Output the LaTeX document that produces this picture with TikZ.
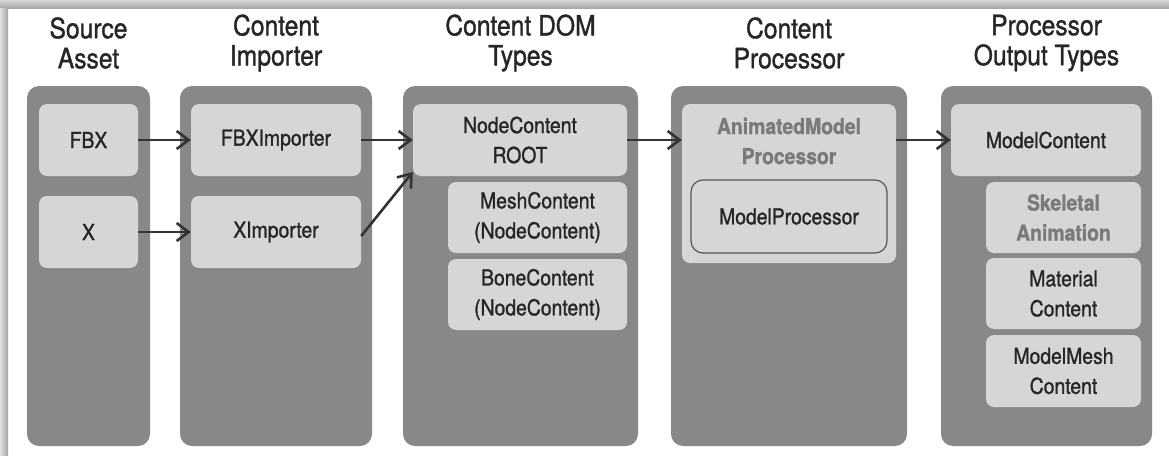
\documentclass[tikz,border=0pt]{standalone}
\usepackage{fontspec}
\setmainfont[FakeStretch=0.88,FakeBold=1.2]{TeX Gyre Heros}
\usetikzlibrary{arrows.meta}
\definecolor{colgray}{HTML}{888888}
\definecolor{itemgray}{HTML}{D6D6D6}
\definecolor{textdark}{HTML}{262626}
\definecolor{textsoft}{HTML}{7A7A7A}
\definecolor{edgegray}{HTML}{555555}
\definecolor{arrowdark}{HTML}{333333}
\begin{document}
\begin{tikzpicture}[x=1pt,y=-1pt,
  column/.style={fill=colgray,rounded corners=12pt,inner sep=0pt},
  item/.style={fill=itemgray,rounded corners=8pt,inner sep=0pt,align=center,
    text=textdark,font=\fontsize{22}{30}\selectfont},
  softtext/.style={text=textsoft,font=\bfseries\fontsize{22}{30}\selectfont},
  header/.style={align=center,text=textdark,inner sep=0pt,
    font=\fontsize{28}{30}\selectfont},
  flow/.style={draw=arrowdark,line width=2.6pt,
    -{Straight Barb[length=12pt,width=18pt,line width=2.6pt]}}]
\useasboundingbox (0,0) rectangle (1169,455);
\fill[white] (0,0) rectangle (1169,455);
% soft frame edge along the top and the left
\shade[top color=black!16,bottom color=black!34] (0,0) rectangle (1169,8);
\shade[left color=black!12,right color=black!36] (0,8) rectangle (8,455);

% column headers
\node[header] (h1) at (88.5,43) {Source\\Asset};
\node[header] (h2) at (276,43) {Content\\Importer};
\node[header] (h3) at (520.5,43) {Content DOM\\Types};
\node[header] (h4) at (789,43) {Content\\Processor};
\node[header] (h5) at (1046.5,43) {Processor\\Output Types};

% columns
\node[column,minimum width=123pt,minimum height=360pt] (c1) at (88.5,266) {};
\node[column,minimum width=192pt,minimum height=360pt] (c2) at (276,266) {};
\node[column,minimum width=235pt,minimum height=360pt] (c3) at (520.5,266) {};
\node[column,minimum width=236pt,minimum height=360pt] (c4) at (789,266) {};
\node[column,minimum width=211pt,minimum height=360pt] (c5) at (1046.5,266) {};

% source assets
\node[item,minimum width=99pt,minimum height=72pt] (fbx) at (88.5,140) {FBX};
\node[item,minimum width=99pt,minimum height=72pt] (xa) at (88.5,232) {X};

% importers
\node[item,minimum width=170pt,minimum height=72pt] (fbximp) at (276,140) {FBXImporter};
\node[item,minimum width=170pt,minimum height=72pt] (ximp) at (276,232) {XImporter};

% content DOM types
\node[item,minimum width=214pt,minimum height=72pt] (root) at (520,140) {NodeContent\\ROOT};
\node[item,minimum width=179pt,minimum height=71pt] (mesh) at (537.5,217.5) {MeshContent\\(NodeContent)};
\node[item,minimum width=179pt,minimum height=71pt] (bone) at (537.5,294.5) {BoneContent\\(NodeContent)};

% processor
\node[item,minimum width=214pt,minimum height=159pt] (anim) at (789,183.5) {};
\node[item,softtext,fill=none] (animlbl) at (789,141) {AnimatedModel\\Processor};
\node[item,draw=edgegray,line width=1.2pt,rounded corners=12pt,
  minimum width=196pt,minimum height=73pt] (modproc) at (789,216.5) {ModelProcessor};

% processor output types
\node[item,minimum width=190pt,minimum height=72pt] (modcont) at (1046,140) {ModelContent};
\node[item,softtext,minimum width=155pt,minimum height=71pt] (skel) at (1063.5,217.5) {Skeletal\\Animation};
\node[item,minimum width=155pt,minimum height=71pt] (mat) at (1063.5,293.5) {Material\\Content};
\node[item,minimum width=155pt,minimum height=72pt] (mmesh) at (1063.5,371) {ModelMesh\\Content};

% connectors
\draw[flow] (fbx.east) -- (fbximp.west);
\draw[flow] (xa.east) -- (ximp.west);
\draw[flow] (fbximp.east) -- (root.west);
\draw[flow] ([yshift=-4pt]ximp.east) -- ([yshift=-32pt]root.west);
\draw[flow] (root.east) -- (anim.west |- root.east);
\draw[flow] (anim.east |- modcont.west) -- (modcont.west);
\end{tikzpicture}
\end{document}
